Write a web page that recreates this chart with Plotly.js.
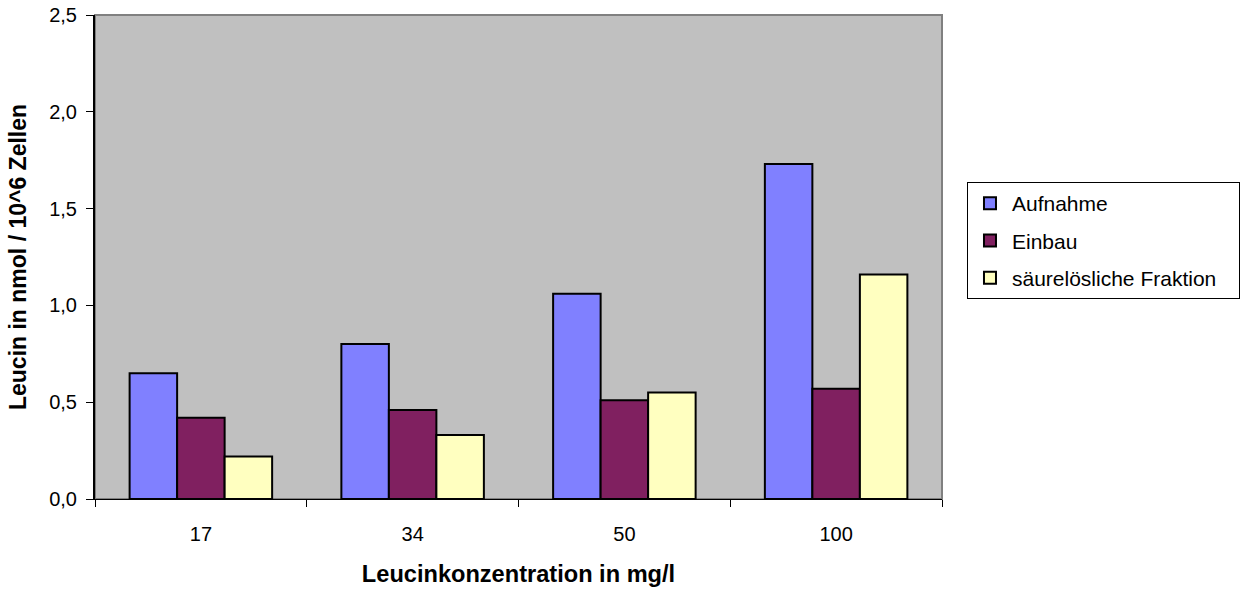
<!DOCTYPE html>
<html>
<head>
<meta charset="utf-8">
<script src="https://cdn.plot.ly/plotly-3.0.1.min.js"></script>
<style>
  html, body { margin: 0; padding: 0; background: #ffffff; }
  #chart { width: 1244px; height: 591px; }
</style>
</head>
<body>
<div id="chart"></div>
<script>
// Leucin-Aufnahme je Leucinkonzentration (nmol / 10^6 Zellen)
const konzentrationen = ['17', '34', '50', '100'];
const aufnahme = [0.65, 0.80, 1.06, 1.73];
const einbau = [0.42, 0.46, 0.51, 0.57];
const saeureloeslich = [0.22, 0.33, 0.55, 1.16];

const serien = [
  { name: 'Aufnahme', werte: aufnahme, farbe: '#8080ff' },
  { name: 'Einbau', werte: einbau, farbe: '#802060' },
  { name: 'säurelösliche Fraktion\u00a0\u00a0\u00a0', werte: saeureloeslich, farbe: '#ffffc0' }
];

const traces = serien.map((s, i) => ({
  type: 'bar',
  name: s.name,
  x: konzentrationen,
  y: s.werte,
  legendgroup: 'g' + i,
  marker: { color: s.farbe, line: { color: '#000000', width: 2 } },
  hoverinfo: 'x+y+name'
}));

const schrift = 'Arial, "Liberation Sans", Helvetica, sans-serif';

const layout = {
  width: 1244,
  height: 591,
  margin: { l: 95, r: 302, t: 15, b: 92, autoexpand: false },
  paper_bgcolor: '#ffffff',
  plot_bgcolor: '#c0c0c0',
  separators: ', ',
  barmode: 'group',
  bargap: 0.327,
  bargroupgap: 0,
  font: { family: schrift, size: 20, color: '#000000' },
  showlegend: true,
  legend: {
    x: 1.0295,
    xanchor: 'left',
    y: 0.655,
    yanchor: 'top',
    bgcolor: '#ffffff',
    bordercolor: '#000000',
    borderwidth: 1,
    itemwidth: 34,
    font: { family: schrift, size: 21, color: '#000000' },
    traceorder: 'grouped',
    tracegroupgap: 7
  },
  xaxis: {
    type: 'category',
    tickson: 'boundaries',
    ticks: 'outside',
    ticklen: 7,
    tickwidth: 1,
    tickcolor: '#000000',
    showline: true,
    linecolor: '#000000',
    linewidth: 1,
    showgrid: false,
    zeroline: false,
    ticklabelstandoff: 17,
    tickfont: { family: schrift, size: 20 },
    title: {
      text: '<b>Leucinkonzentration in mg/l</b>',
      font: { family: schrift, size: 23.6 },
      standoff: 21
    }
  },
  yaxis: {
    range: [0, 2.5],
    dtick: 0.5,
    tick0: 0,
    tickformat: '.1f',
    ticks: 'outside',
    ticklen: 7,
    tickwidth: 1,
    tickcolor: '#000000',
    showline: true,
    linecolor: '#000000',
    linewidth: 2,
    showgrid: false,
    zeroline: false,
    ticklabelstandoff: 5,
    tickfont: { family: schrift, size: 20 },
    title: {
      text: '<b>Leucin in nmol / 10^6 Zellen</b>',
      font: { family: schrift, size: 23 },
      standoff: 16
    }
  },
  shapes: [
    {
      type: 'rect', xref: 'paper', yref: 'paper',
      x0: 0, x1: 1, y0: 0, y1: 1,
      line: { color: '#808080', width: 2 },
      layer: 'below'
    }
  ]
};

Plotly.newPlot('chart', traces, layout, { displayModeBar: false, staticPlot: true });
</script>
</body>
</html>
